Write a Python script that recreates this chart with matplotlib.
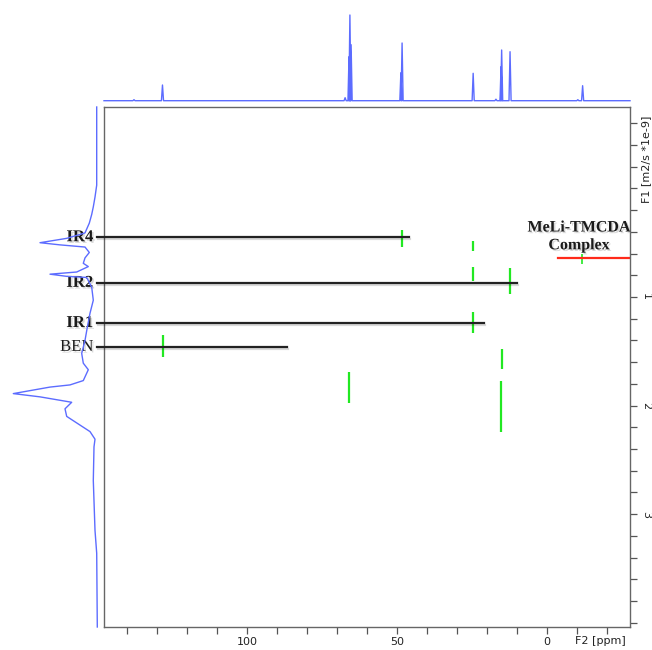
import matplotlib
matplotlib.use("Agg")
import matplotlib.pyplot as plt
import matplotlib.patheffects as pe
import numpy as np

# F2 (13C) projection: peak positions [ppm] and heights [a.u.]
f2_ppm = [137.7, 128.2, 67.3, 66.0, 65.7, 65.3, 48.7, 48.3, 24.6,
          17.0, 15.3, 15.1, 12.3, -10.3, -11.9]
f2_height = [1.0, 15.7, 3.0, 44.0, 85.7, 56.0, 28.0, 57.7, 27.4,
             1.5, 34.0, 50.7, 49.0, 1.0, 15.0]

# F1 (diffusion) projection trace
f1_diff = [-0.75, -0.03, 0.08, 0.17, 0.24, 0.32, 0.41, 0.46, 0.50, 0.52,
           0.54, 0.59, 0.64, 0.69, 0.72, 0.77, 0.79, 0.81, 0.82, 0.91,
           1.03, 1.15, 1.28, 1.40, 1.52, 1.61, 1.67, 1.77, 1.81, 1.83,
           1.89, 1.92, 1.97, 2.03, 2.10, 2.18, 2.24, 2.31, 2.38, 2.69,
           3.15, 3.36, 4.04]
f1_int = [0.6, 0.6, 2.3, 4.0, 5.6, 8.0, 12.3, 30.6, 57.3, 37.3,
          12.3, 8.0, 12.3, 14.0, 9.0, 20.6, 47.3, 30.6, 10.6, 5.6,
          4.0, 7.3, 10.0, 12.3, 15.6, 14.0, 9.0, 14.0, 27.3, 47.3,
          84.0, 57.3, 25.6, 32.3, 30.6, 17.3, 7.3, 2.3, 3.3, 4.0,
          2.3, 0.6, 0.0]

# DOSY cross peaks: ppm, D range (top, bottom)
cp_ppm = [48.4, 24.7, 24.7, 12.4, 24.7, 128.0, 15.0, 15.4, 66.0, -11.7]
cp_d0 = [0.38, 0.48, 0.72, 0.73, 1.14, 1.35, 1.48, 1.77, 1.69, 0.60]
cp_d1 = [0.54, 0.58, 0.85, 0.97, 1.33, 1.55, 1.66, 2.24, 1.98, 0.70]

# assigned species: label, diffusion coefficient, ppm extent of the marker line
species = ["IR4", "IR2", "IR1", "BEN"]
species_d = [0.45, 0.87, 1.24, 1.46]
species_end = [46.0, 10.0, 21.0, 86.7]
species_bold = [True, True, True, False]

complex_label = "MeLi-TMCDA\nComplex"
complex_d = 0.64
complex_span = [-3.7, -27.3]

xlim = (147.7, -27.7)
ylim = (4.04, -0.75)

fig = plt.figure(figsize=(6.52, 6.50), dpi=100)
W, H = 652, 650

ax = fig.add_axes([104 / W, 1 - 627 / H, 526 / W, 520 / H])
ax_top = fig.add_axes([104 / W, 1 - 100.7 / H, 526 / W, 90 / H])
ax_left = fig.add_axes([0, 1 - 627 / H, 97.3 / W, 520 / H])

blue = "#5c6cff"

# top projection, drawn as narrow peaks on a flat baseline
order = np.argsort(f2_ppm)[::-1]
w = 0.35
px, py = [xlim[0]], [0.0]
for i in order:
    px += [f2_ppm[i] + w, f2_ppm[i], f2_ppm[i] - w]
    py += [0.0, f2_height[i], 0.0]
px.append(xlim[1])
py.append(0.0)
ax_top.plot(px, py, color=blue, lw=1.0, clip_on=False)
ax_top.set_xlim(*xlim)
ax_top.set_ylim(0, 90)
ax_top.axis("off")

# left projection
ax_left.plot(f1_int, f1_diff, color=blue, lw=1.0, clip_on=False)
ax_left.set_xlim(97.3, 0)
ax_left.set_ylim(*ylim)
ax_left.axis("off")

# cross peaks
for p, d0, d1 in zip(cp_ppm, cp_d0, cp_d1):
    lw = 1.2 if p < 0 else 1.6
    ax.plot([p, p], [d0, d1], color="#22e822", lw=lw, solid_capstyle="butt")

shadow_line = [pe.SimpleLineShadow(offset=(1.0, -1.2), alpha=0.15), pe.Normal()]
shadow_text = [pe.withSimplePatchShadow(offset=(1.2, -1.2), shadow_rgbFace="0.5", alpha=0.3)]

for name, d, end, bold in zip(species, species_d, species_end, species_bold):
    ax.plot([150.0, end], [d, d], color="#222222", lw=1.6, clip_on=False,
            path_effects=shadow_line, zorder=3)
    ax.text(151.3, d, name, ha="right", va="center", fontsize=12,
            family="Liberation Serif", fontweight="bold" if bold else "normal",
            color="#1a1a1a", clip_on=False, path_effects=shadow_text)

ax.plot(complex_span, [complex_d, complex_d], color="#ff2a1a", lw=1.6)
ax.text(-10.7, 0.442, complex_label, ha="center", va="center", fontsize=11.5,
        family="Liberation Serif", fontweight="bold", color="#1a1a1a",
        multialignment="center", linespacing=1.15, clip_on=False,
        path_effects=shadow_text)

ax.set_xlim(*xlim)
ax.set_ylim(*ylim)

xt = np.arange(140, -21, -10)
ax.set_xticks(xt)
ax.set_xticklabels([str(v) if v % 50 == 0 else "" for v in xt])
yt = np.round(np.arange(-0.6, 4.01, 0.2), 1)
ax.set_yticks(yt)
ax.set_yticklabels([str(int(v)) if v in (1.0, 2.0, 3.0) else "" for v in yt],
                   rotation=-90, va="center", ha="left")
ax.yaxis.tick_right()
ax.tick_params(axis="both", direction="out", length=5, width=0.9,
               color="#555555", labelsize=8, labelcolor="#222222")
ax.tick_params(axis="x", pad=2)
ax.tick_params(axis="y", pad=3)
for s in ax.spines.values():
    s.set_color("#666666")
    s.set_linewidth(1.0)

ax.text(1.0 - 30 / 526, -9 / 520, "F2 [ppm]", transform=ax.transAxes,
        ha="center", va="top", fontsize=8, color="#222222")
ax.text(1.0 + 16 / 526, 1.0 - 52 / 520, "F1 [m2/s *1e-9]", transform=ax.transAxes,
        ha="center", va="center", rotation=90, fontsize=8, color="#222222")

fig.savefig("out.png", dpi=100)
